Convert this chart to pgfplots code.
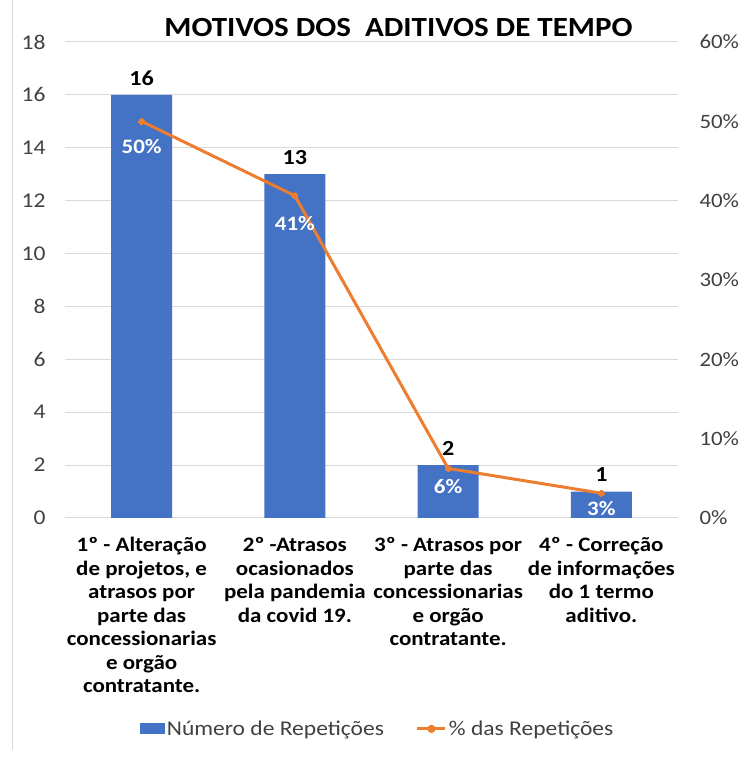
\documentclass[border=0pt]{standalone}
\usepackage{pgfplots}
\pgfplotsset{compat=1.18}
\usepackage{fontspec}
\setmainfont{Carlito}[FakeStretch=1.12]
\definecolor{barblue}{HTML}{4472C4}
\definecolor{lineorange}{HTML}{ED7D31}
\definecolor{gridgray}{HTML}{D9D9D9}
\definecolor{ticktext}{HTML}{404040}
\begin{document}
\begin{tikzpicture}[x=1pt,y=1pt]
\useasboundingbox (0,0) rectangle (745,757);
\draw[gridgray, line width=0.8pt] (12,757) -- (12,7);
\begin{axis}[
  at={(65pt,239pt)}, anchor=south west,
  width=613pt, height=476pt, scale only axis,
  xmin=-0.5, xmax=3.5, ymin=0, ymax=18,
  ytick={0,2,...,18},
  xtick={0,1,2,3},
  xticklabels={{1º - Alteração\\de projetos, e\\atrasos por\\parte das\\concessionarias\\e orgão\\contratante.},
               {2º -Atrasos\\ocasionados\\pela pandemia\\da covid 19.},
               {3º - Atrasos por\\parte das\\concessionarias\\e orgão\\contratante.},
               {4º - Correção\\de informações\\do 1 termo\\aditivo.}},
  xticklabel style={align=center, font=\bfseries\fontsize{20.5}{23.5}\selectfont, text=black, anchor=north, yshift=-16pt},
  yticklabel style={font=\fontsize{21}{24}\selectfont, text=ticktext, xshift=-16pt},
  /pgf/number format/assume math mode=true,
  axis line style={draw=none},
  tick style={draw=none},
  ymajorgrids, grid style={gridgray, line width=1pt},
  clip=false,
]
\addplot[ybar, bar width=61pt, fill=barblue, draw=none,
  nodes near coords,
  nodes near coords style={font=\bfseries\fontsize{21.5}{24}\selectfont, text=black, anchor=center, yshift=17pt}]
  coordinates {(0,16) (1,13) (2,2) (3,1)};
\end{axis}
\begin{axis}[
  at={(65pt,239pt)}, anchor=south west,
  width=613pt, height=476pt, scale only axis,
  xmin=-0.5, xmax=3.5, ymin=0, ymax=0.6,
  axis y line*=right, axis x line=none,
  ytick={0,0.1,0.2,0.3,0.4,0.5,0.6},
  yticklabels={0\%,10\%,20\%,30\%,40\%,50\%,60\%},
  yticklabel style={font=\fontsize{20.4}{24}\selectfont, text=ticktext, xshift=18pt},
  axis line style={draw=none},
  tick style={draw=none},
  clip=false,
  title={MOTIVOS DOS\ \ ADITIVOS DE TEMPO},
  title style={font=\bfseries\fontsize{27.7}{30}\selectfont, text=black, yshift=-4pt, xshift=27pt},
  legend style={at={(0.51,-0.443)}, anchor=center, draw=none, fill=none,
    legend columns=2, font=\fontsize{21}{24}\selectfont, text=ticktext,
    /tikz/every even column/.append style={column sep=30pt}},
  legend cell align=left,
]
\addlegendimage{area legend, fill=barblue, draw=none, legend image code/.code={\fill[barblue] (-2pt,-5.5pt) rectangle (23pt,5.5pt);}}
\addlegendentry{Número de Repetições}
\addplot[lineorange, line width=3pt, mark=*, mark size=3pt,
  mark options={fill=lineorange, draw=lineorange, line width=0pt},
  legend image code/.code={\draw[lineorange, line width=3pt] (-4pt,0pt) -- (24pt,0pt); \fill[lineorange] (10pt,0pt) circle (2.5pt);},
  point meta=explicit symbolic,
  visualization depends on={\thisrow{dy} \as \dy},
  nodes near coords,
  nodes near coords style={font=\bfseries\fontsize{20.5}{22}\selectfont, text=white, anchor=center, yshift=\dy pt}]
  table[x=x, y=y, meta=lab] {
x y lab dy
0 0.5 50\% -25
1 0.40625 41\% -28
2 0.0625 6\% -18
3 0.03125 3\% -15
};
\addlegendentry{\% das Repetições}
\end{axis}
\end{tikzpicture}
\end{document}
